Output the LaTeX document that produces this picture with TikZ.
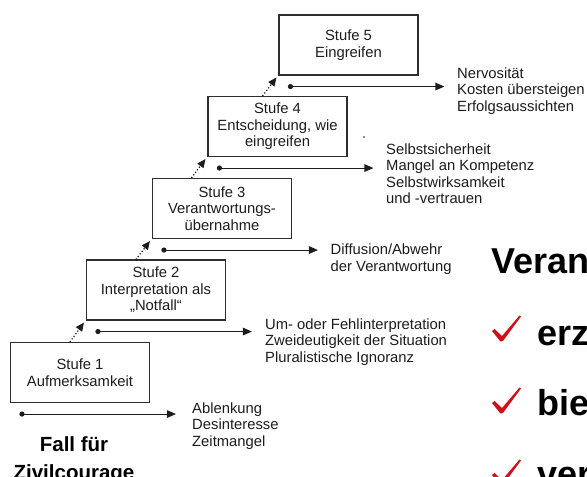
\documentclass[tikz,border=0pt]{standalone}
\usepackage{fontspec}
\setmainfont{Liberation Sans}
\usetikzlibrary{arrows.meta,calc}
\definecolor{ink}{HTML}{1C1C1C}
\definecolor{frame}{HTML}{2E2E2E}
\definecolor{tickred}{HTML}{D0101A}
\begin{document}
\begin{tikzpicture}[x=1pt,y=-1pt,
  stage/.style={draw=frame, line width=1.1pt, minimum width=139pt, minimum height=60pt,
    inner sep=0pt, align=center, text=ink, font=\fontsize{14.8}{16.5}\selectfont},
  side/.style={anchor=base west, inner sep=0pt, align=left, text=ink,
    font=\fontsize{14.8}{16.5}\selectfont},
  flow/.style={draw=ink, line width=1.1pt, -{Triangle[length=9pt,width=7.5pt]}},
  climb/.style={draw=ink, line width=1.2pt, dotted, -{Triangle[length=8.5pt,width=7.5pt]}},
  big/.style={inner sep=0pt, text=black, font=\bfseries\fontsize{36}{40}\selectfont},
  chk/.pic={\fill[tickred] (-9.5,-10) -- (-7,-12) -- (0.5,-5) -- (18,-25.5) -- (19.5,-24.5) -- (1.5,0) -- (-1,0.5) -- cycle;}
]
\useasboundingbox (0,0) rectangle (587,477);
\clip (0,0) rectangle (587,477);

% stages
\node[stage] (s1) at (80,372.5) {Stufe 1\\Aufmerksamkeit};
\node[stage] (s2) at (156,290) {Stufe 2\\Interpretation als\\„Notfall“};
\node[stage] (s3) at (222,208.5) {Stufe 3\\Verantwortungs-\\übernahme};
\node[stage] (s4) at (277.5,126.5) {Stufe 4\\Entscheidung, wie\\eingreifen};
\node[stage] (s5) at (348.5,45) {Stufe 5\\Eingreifen};

% barrier texts (anchor = baseline of the last line)
\node[side] (t1) at (192,446) {Ablenkung\\Desinteresse\\Zeitmangel};
\node[side] (t2) at (265,362) {Um- oder Fehlinterpretation\\Zweideutigkeit der Situation\\Pluralistische Ignoranz};
\node[side] (t3) at (330.5,271) {Diffusion/Abwehr\\der Verantwortung};
\node[side] (t4) at (386,203.5) {Selbstsicherheit\\Mangel an Kompetenz\\Selbstwirksamkeit\\und -vertrauen};
\node[side] (t5) at (457,111) {Nervosität\\Kosten übersteigen\\Erfolgsaussichten};

% barrier arrows
\foreach \i in {1,...,5}{
  \coordinate (a\i) at ($(s\i.south west)+(12,11)$);
  \coordinate (b\i) at ($(a\i)+(154,0)$);
  \draw[flow] (a\i) -- (b\i);
  \fill[ink] (a\i) circle (2.6);
}

% climbing arrows
\foreach \i/\j in {1/2,2/3,3/4,4/5}{
  \coordinate (c\i) at ($(s\j.south west)+(-16,0)$);
  \coordinate (d\i) at ($(s\j.south west)+(-2,2)$);
  \draw[climb] (c\i |- s\i.north) -- (d\i);
}

% stray dot
\fill[ink] (364,137) circle (0.9);

% bottom label
\node[inner sep=0pt, anchor=base, align=center, text=black,
  font=\bfseries\fontsize{20.5}{27.5}\selectfont] (fall) at (74,479) {Fall für\\Zivilcourage};

% right-hand slide text
\node[big, anchor=base west] (head) at (491.5,273) {Veran};
\node[big, anchor=base west] (l1) at (537,345) {erz};
\node[big, anchor=base west] (l2) at (537,415) {bie};
\node[big, anchor=base west] (l3) at (537,486) {ver};
\pic at (501.5,341) {chk};
\pic at (501.5,413) {chk};
\pic at (501.5,485) {chk};
\end{tikzpicture}
\end{document}
